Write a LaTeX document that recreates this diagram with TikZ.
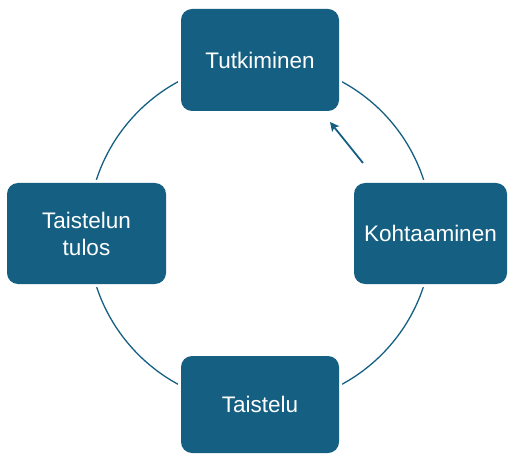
\documentclass[tikz,border=0pt]{standalone}
\usepackage{fontspec}
\setmainfont{Liberation Sans}
\usetikzlibrary{arrows.meta}
\definecolor{accent}{HTML}{156082}
\tikzset{
  stagebox/.style={fill=accent, text=white, rounded corners=11pt, inner sep=0pt,
    align=center, font=\fontsize{22.5}{27}\selectfont,
    preaction={draw=white, line width=6pt}},
  ring/.style={draw=accent, line width=1.3pt},
  pointer/.style={draw=accent, line width=1.8pt, -{Stealth[length=9pt,width=9pt,inset=2pt]}}
}
\begin{document}
\begin{tikzpicture}[x=1pt,y=-1pt]
\useasboundingbox (0,0) rectangle (508,454);
\coordinate (c) at (260,233);
\draw[ring] (c) circle[radius=172];
\node[stagebox, minimum width=158pt, minimum height=102pt] (tut) at (260,60) {Tutkiminen};
\node[stagebox, minimum width=153pt, minimum height=101pt] (koh) at (430.5,233.5) {Kohtaaminen};
\node[stagebox, minimum width=158pt, minimum height=97pt] (tai) at (260,404.5) {Taistelu};
\node[stagebox, minimum width=159pt, minimum height=101pt] (tul) at (86.5,233.5) {Taistelun\\tulos};
\coordinate (pstart) at (363,163);
\coordinate (pend) at (330,122);
\draw[pointer] (pstart) -- (pend);
\end{tikzpicture}
\end{document}
